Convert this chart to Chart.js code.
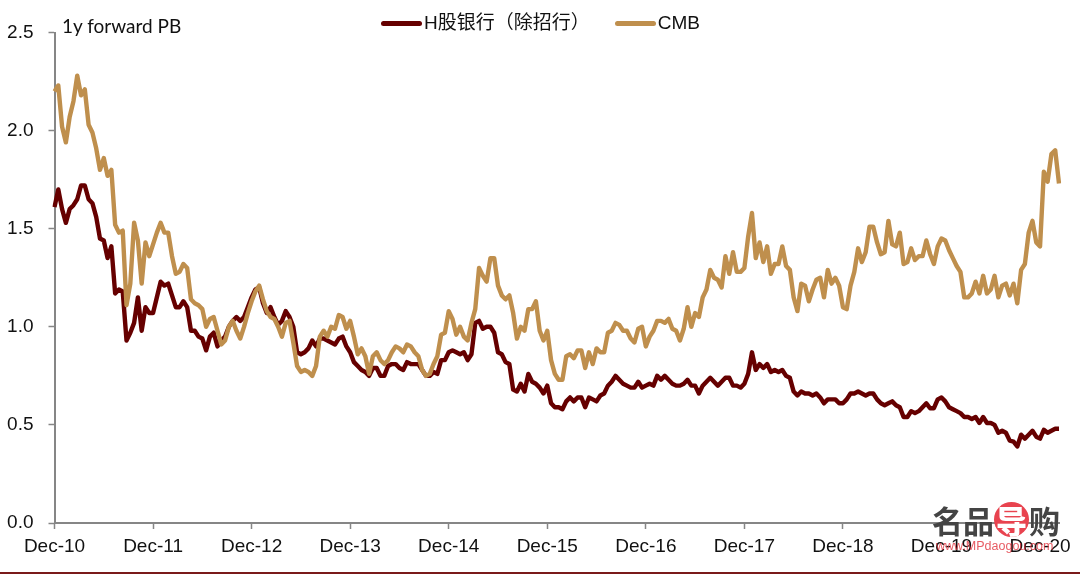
<!DOCTYPE html>
<html>
<head>
<meta charset="utf-8">
<style>
  html, body { margin: 0; padding: 0; background: #fff; }
  #wrap { position: relative; width: 1080px; height: 576px; overflow: hidden; font-family: "Liberation Sans", "Noto Sans CJK SC", sans-serif; }
  #chart { position: absolute; left: 0; top: 0; }
  #pbTitle { position: absolute; left: 62px; top: 14px; font: 19px Lato, sans-serif; color: #111; }
  #legend { position: absolute; left: 381px; top: 12px; display: flex; font-size: 19px; line-height: 22px; color: #111; }
  .item { display: flex; align-items: center; margin-right: 25px; }
  .swatch { width: 41px; height: 5px; border-radius: 2.5px; margin-right: 2px; }
  #rule { position: absolute; left: 0; top: 572px; width: 1080px; height: 2px; background: #7a1a1a; }
  #logo { position: absolute; left: 932px; top: 501px; font: 700 31px "Noto Sans CJK SC", sans-serif; line-height: 38px; color: #444; white-space: nowrap; }
  #logo b { display: inline-block; width: 35px; height: 35px; line-height: 35px; border-radius: 18px; background: #e8434f; color: #fff; text-align: center; }
  #site { position: absolute; left: 936px; top: 539px; font-size: 12.5px; color: rgba(225, 50, 60, 0.8); white-space: nowrap; }
</style>
</head>
<body>
<div id="wrap">
  <canvas id="chart" width="1080" height="576"></canvas>
  <div id="pbTitle">1y forward PB</div>
  <div id="legend"></div>
  <div id="rule"></div>
  <div id="logo">名品<b>导</b>购</div>
  <div id="site">www.MPdaogou.com</div>
</div>
<script src="https://cdn.jsdelivr.net/npm/chart.js@4/dist/chart.umd.min.js"></script>
<script>
// One row per year, two readings a month
const hShareBanks = [
  1.61,1.70,1.60,1.53,1.60,1.62,1.65,1.72,1.72,1.65,1.63,1.56,1.45,1.44,1.35,1.41,1.17,1.19,1.18,0.93,0.97,1.02,1.15,0.98,1.10,1.07,
  1.07,1.15,1.23,1.21,1.22,1.16,1.10,1.10,1.13,1.10,0.98,0.98,0.95,0.94,0.88,0.95,0.97,0.90,0.93,0.95,1.00,1.03,1.05,1.03,1.05,1.10,
  1.15,1.19,1.20,1.12,1.07,1.10,1.05,1.01,1.03,1.08,1.05,1.00,0.87,0.86,0.87,0.89,0.93,0.90,0.94,0.94,0.93,0.92,0.91,0.94,0.95,0.90,
  0.87,0.82,0.80,0.78,0.77,0.75,0.79,0.79,0.75,0.75,0.80,0.81,0.81,0.79,0.78,0.82,0.81,0.81,0.81,0.78,0.75,0.75,0.77,0.76,0.83,0.83,
  0.87,0.88,0.87,0.86,0.87,0.83,0.86,1.02,1.03,0.99,1.00,1.00,0.97,0.87,0.86,0.82,0.81,0.68,0.67,0.71,0.67,0.76,0.72,0.71,0.69,0.66,
  0.70,0.61,0.59,0.59,0.58,0.62,0.64,0.62,0.64,0.64,0.59,0.64,0.63,0.62,0.65,0.66,0.70,0.72,0.75,0.73,0.71,0.70,0.69,0.69,0.72,0.69,
  0.70,0.71,0.70,0.75,0.73,0.75,0.73,0.71,0.70,0.70,0.71,0.73,0.70,0.70,0.66,0.70,0.72,0.74,0.72,0.70,0.72,0.74,0.74,0.70,0.70,0.69,
  0.71,0.76,0.87,0.78,0.81,0.79,0.81,0.77,0.78,0.77,0.78,0.75,0.74,0.67,0.65,0.67,0.66,0.66,0.65,0.66,0.64,0.61,0.63,0.63,0.63,0.61,
  0.61,0.63,0.66,0.66,0.67,0.66,0.65,0.66,0.66,0.63,0.61,0.60,0.61,0.62,0.60,0.59,0.54,0.54,0.57,0.56,0.57,0.59,0.61,0.585,0.585,0.63,
  0.64,0.62,0.59,0.58,0.57,0.56,0.54,0.54,0.53,0.54,0.51,0.54,0.51,0.51,0.50,0.46,0.47,0.46,0.42,0.415,0.39,0.45,0.43,0.45,0.47,0.44,
  0.43,0.475,0.46,0.47,0.48,0.48
];
const cmb = [
  2.20,2.23,2.02,1.94,2.07,2.15,2.28,2.18,2.21,2.03,1.99,1.91,1.80,1.86,1.77,1.80,1.52,1.48,1.49,1.11,1.22,1.53,1.44,1.22,1.43,1.36,
  1.42,1.48,1.53,1.48,1.48,1.36,1.27,1.28,1.32,1.30,1.14,1.12,1.11,1.09,1.00,1.04,1.05,0.98,0.91,0.93,1.00,1.03,0.98,0.94,1.00,1.07,
  1.13,1.18,1.21,1.14,1.08,1.05,1.04,1.00,0.95,1.02,1.03,0.92,0.80,0.77,0.78,0.77,0.75,0.80,0.95,0.98,0.95,1.00,0.99,1.06,1.05,0.99,
  1.03,0.95,0.86,0.89,0.85,0.76,0.85,0.87,0.83,0.81,0.83,0.87,0.90,0.89,0.87,0.91,0.90,0.87,0.85,0.78,0.75,0.76,0.81,0.85,0.96,0.97,
  1.08,1.04,0.96,1.00,0.95,0.93,1.02,1.09,1.30,1.26,1.23,1.35,1.35,1.21,1.16,1.14,1.16,1.07,0.94,1.00,0.98,1.09,1.09,1.13,0.98,0.93,
  0.98,0.83,0.76,0.73,0.73,0.85,0.86,0.84,0.88,0.88,0.79,0.87,0.81,0.89,0.87,0.87,0.97,0.98,1.02,1.01,0.98,0.98,0.94,0.92,0.99,1.00,
  0.90,0.95,0.98,1.03,1.03,1.02,1.04,0.99,0.98,0.93,0.99,1.10,1.00,1.07,1.05,1.15,1.19,1.29,1.25,1.24,1.20,1.36,1.27,1.38,1.28,1.28,
  1.30,1.46,1.58,1.35,1.43,1.33,1.41,1.27,1.32,1.32,1.41,1.31,1.29,1.15,1.08,1.22,1.21,1.13,1.19,1.24,1.25,1.15,1.29,1.22,1.25,1.21,
  1.10,1.09,1.21,1.28,1.40,1.33,1.38,1.51,1.51,1.43,1.37,1.38,1.54,1.42,1.41,1.48,1.32,1.33,1.40,1.34,1.36,1.36,1.44,1.37,1.32,1.41,
  1.45,1.44,1.39,1.35,1.31,1.28,1.15,1.15,1.17,1.23,1.17,1.26,1.17,1.19,1.26,1.15,1.21,1.22,1.16,1.22,1.12,1.29,1.32,1.48,1.54,1.43,
  1.41,1.79,1.74,1.88,1.90,1.73
];
const tickLabels = ['Dec-10','Dec-11','Dec-12','Dec-13','Dec-14','Dec-15','Dec-16','Dec-17','Dec-18','Dec-19','Dec-20'];
const readingsPerYear = 26;

const categories = cmb.map((_, i) => tickLabels[i / readingsPerYear] || '');
const axisColor = '#868686';
const tickFont = { family: 'Liberation Sans', size: 19 };

const chart = new Chart(document.getElementById('chart'), {
  type: 'line',
  data: {
    labels: categories,
    datasets: [
      { label: 'H股银行（除招行）', data: hShareBanks, borderColor: '#660000', order: 2 },
      { label: 'CMB', data: cmb, borderColor: '#BF8F4D', order: 1 }
    ]
  },
  options: {
    responsive: false,
    animation: false,
    layout: { padding: { top: 32.5, right: 21 } },
    elements: {
      line: { borderWidth: 4.4, tension: 0, borderJoinStyle: 'round' },
      point: { radius: 0 }
    },
    plugins: { legend: { display: false }, tooltip: { enabled: false } },
    scales: {
      x: {
        afterFit: s => { s.height = 53; },
        border: { color: axisColor, width: 2 },
        grid: {
          drawOnChartArea: false,
          tickLength: 6,
          tickWidth: 1.5,
          tickColor: ctx => (ctx.tick && ctx.tick.label ? axisColor : 'transparent')
        },
        ticks: {
          autoSkip: false,
          maxRotation: 0,
          padding: 6,
          color: '#111',
          font: tickFont,
          callback(value) { return this.getLabelForValue(value) || null; }
        }
      },
      y: {
        min: 0,
        max: 2.5,
        afterFit: s => { s.width = 54.5; },
        border: { color: axisColor, width: 2 },
        grid: { drawOnChartArea: false, tickLength: 6, tickWidth: 1.5, tickColor: axisColor },
        ticks: {
          stepSize: 0.5,
          padding: 15,
          color: '#111',
          font: tickFont,
          callback: v => v.toFixed(1)
        }
      }
    }
  }
});

// Legend is built from the datasets so it can sit above the plot without moving it
const legendEl = document.getElementById('legend');
chart.data.datasets.forEach(ds => {
  const item = document.createElement('div');
  item.className = 'item';
  const swatch = document.createElement('span');
  swatch.className = 'swatch';
  swatch.style.background = ds.borderColor;
  item.appendChild(swatch);
  item.appendChild(document.createTextNode(ds.label));
  legendEl.appendChild(item);
});
</script>
</body>
</html>
